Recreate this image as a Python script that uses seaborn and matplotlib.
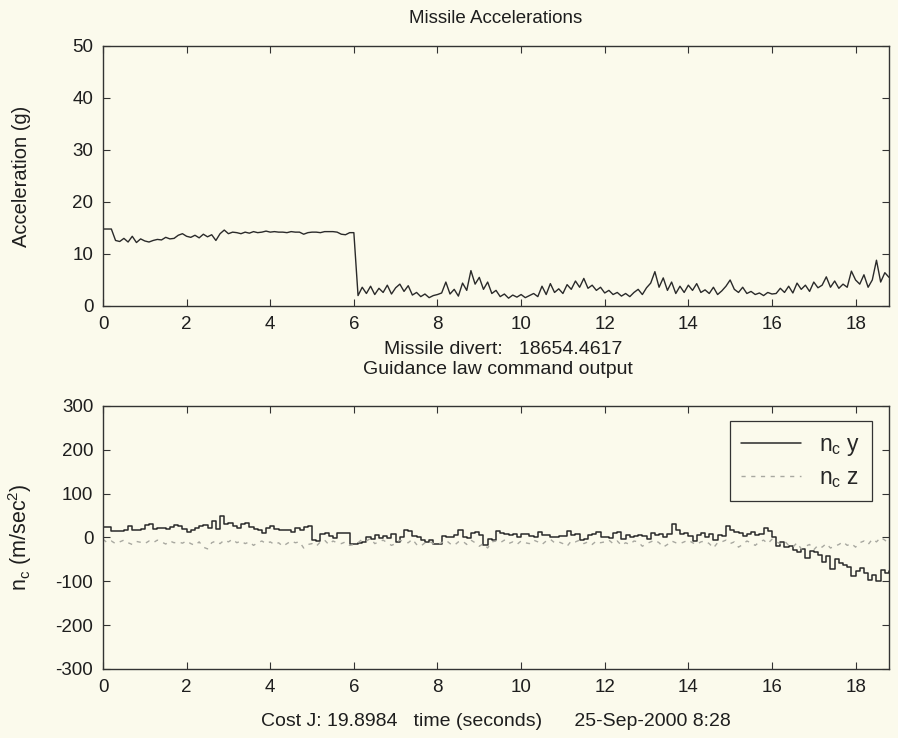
import numpy as np
import pandas as pd
import matplotlib
matplotlib.use("Agg")
import matplotlib.pyplot as plt
import seaborn as sns

# ---------------- data (sampled every 0.1 s) ----------------
accel_g = [
    14.8, 14.8, 14.8,
    12.6, 12.4, 13.0, 12.3, 13.4, 12.2, 12.9, 12.5,
    12.3, 12.6, 12.8, 12.7, 13.2, 12.9, 13.0, 13.6, 13.9, 13.4,
    13.2, 13.6, 13.1, 13.8, 13.3, 13.7, 12.6, 13.9, 14.6, 13.9,
    14.2, 14.1, 13.9, 14.2, 14.0, 14.3, 14.1, 14.2, 14.4, 14.2,
    14.3, 14.2, 14.2, 14.1, 14.3, 14.2, 14.2, 13.8, 14.1, 14.2,
    14.2, 14.1, 14.3, 14.3, 14.3, 14.2, 13.8, 13.7, 14.1, 14.1,
    2.0, 3.6, 2.4, 3.8, 2.2, 3.4, 2.6, 4.0, 2.3, 3.5,
    4.2, 2.8, 3.9, 2.1, 2.6, 1.8, 2.3, 1.6, 2.0, 2.2,
    2.5, 4.6, 2.3, 3.2, 1.9, 4.4, 3.0, 6.8, 4.2, 5.5,
    3.2, 4.6, 2.4, 3.0, 1.8, 2.3, 1.5, 2.1, 1.7, 2.2,
    1.6, 2.0, 2.4, 1.8, 3.8, 2.2, 4.3, 2.6, 3.3, 2.4,
    4.1, 3.2, 4.8, 3.6, 5.3, 3.4, 4.0, 3.0, 3.6, 2.5,
    3.0, 2.2, 2.6, 1.9, 2.4, 1.8, 2.6, 3.2, 2.2, 3.5,
    4.4, 6.6, 3.6, 5.4, 3.0, 4.6, 2.4, 3.8, 2.6, 4.0,
    3.0, 4.3, 2.6, 3.1, 2.4, 3.6, 2.2, 2.9, 3.8, 5.0,
    3.2, 2.6, 3.6, 2.4, 2.8, 2.2, 2.5, 2.0, 2.6, 2.3,
    2.4, 3.4, 2.6, 3.8, 2.5, 4.4, 3.2, 4.0, 2.8, 4.6,
    3.5, 4.0, 5.6, 3.6, 4.8, 3.4, 4.2, 3.6, 6.7, 5.0,
    4.2, 6.0, 3.6, 5.0, 8.8, 4.6, 6.4, 5.5,
]

nc_y = [
    25, 25, 14, 15, 15, 18, 27, 18, 17, 19,
    28, 30, 20, 22, 21, 20, 24, 28, 27, 20,
    12, 18, 22, 26, 28, 22, 38, 20, 48, 30,
    32, 26, 22, 30, 34, 24, 20, 18, 10, 22,
    26, 20, 18, 18, 16, 12, 22, 18, 24, 26,
    -6, -8, 8, 10, 4, -2, 10, 11, 11, -16,
    -14, -12, -10, 2, -4, 6, -2, 4, -2, 8,
    -10, 2, 18, 14, 4, 0, -6, -10, -6, -16,
    -14, 4, 0, 2, 6, 18, 2, -2, 10, 12,
    6, -18, -4, -6, 14, 10, 8, 6, 8, 2,
    8, 8, 4, 2, 12, 6, 6, 2, 0, 4,
    4, 14, 6, 8, -6, -4, 6, 8, 12, 2,
    2, -2, 10, 12, -4, 6, 2, 4, 6, 4,
    -4, 10, 6, 8, 2, 8, 30, 18, 8, 10,
    4, -8, 6, 10, 2, 8, -6, 6, 4, 26,
    16, 12, 10, 4, 8, 12, 6, 8, 22, 14,
    0, -20, -10, -22, -20, -28, -32, -26, -46, -30,
    -34, -40, -56, -42, -73, -50, -58, -62, -68, -88,
    -76, -70, -82, -96, -86, -99, -74, -80, -77,
]

nc_z = [
    -4, -12, -8, -14, -10, -6, -12, -16, -9, -11,
    -14, -8, -12, -6, -10, -15, -8, -12, -10, -13,
    -8, -14, -18, -10, -22, -26, -12, -8, -14, -6,
    -10, -4, -12, -8, -14, -10, -18, -12, -8, -14,
    -10, -16, -12, -20, -14, -8, -12, -10, -24, -16,
    -14, -20, -10, -6, -16, -8, -12, -14, -10, -18,
    -16, -12, -4, -8, -2, -14, -10, -6, -12, -18,
    -14, -6, -10, -12, -4, -16, -20, -12, -8, -14,
    -16, -12, -6, -14, -18, -10, -8, -16, -6, -12,
    -20, -14, -24, -10, -8, -12, -6, -14, -10, -16,
    -8, -12, -14, -6, -10, -16, -8, -4, -12, -10,
    -14, -20, -8, -10, -6, -14, -10, -16, -8, -12,
    -10, -6, -14, -8, -18, -12, -16, -8, -10, -20,
    -14, -10, -6, -12, -22, -16, -8, -12, -14, -10,
    -6, -12, -16, -10, -8, -14, -24, -12, -10, -6,
    -14, -10, -22, -16, -8, -12, -18, -10, -6, -14,
    -4, -10, -14, -8, -18, -22, -12, -26, -20, -16,
    -28, -18, -22, -14, -24, -20, -16, -10, -18, -14,
    -22, -12, -8, -16, -4, -10, 0, -6, -14,
]

top_title = "Missile Accelerations"
mid_text = "Missile divert:   18654.4617"
bottom_title = "Guidance law command output"
bottom_xlabel = "Cost J: 19.8984   time (seconds)      25-Sep-2000 8:28"
top_ylabel = "Acceleration (g)"
bottom_ylabel = r"n$_{\mathrm{c}}$ (m/sec$^2$)"
legend_labels = [r"n$_{\mathrm{c}}$ y", r"n$_{\mathrm{c}}$ z"]
x_ticks = [0, 2, 4, 6, 8, 10, 12, 14, 16, 18]
top_yticks = [0, 10, 20, 30, 40, 50]
bottom_yticks = [-300, -200, -100, 0, 100, 200, 300]

t_acc = np.round(np.arange(len(accel_g)) * 0.1, 2)
t_nc = np.round(np.arange(len(nc_y)) * 0.1, 2)
df_acc = pd.DataFrame({"t": t_acc, "a": accel_g})
df_nc = pd.DataFrame({"t": t_nc, "y": nc_y, "z": nc_z[:len(nc_y)]})

# ---------------- style ----------------
BG = "#fbfaec"
sns.set_theme(style="ticks")
plt.rcParams["font.family"] = ["Liberation Sans", "DejaVu Sans"]
plt.rcParams["mathtext.fontset"] = "custom"
plt.rcParams["mathtext.rm"] = "Liberation Sans"
plt.rcParams["mathtext.it"] = "Liberation Sans"
plt.rcParams["axes.unicode_minus"] = False
FS = 13.5
TXT = "#1e1e1e"

fig = plt.figure(figsize=(8.98, 7.38), dpi=100, facecolor=BG)
ax1 = fig.add_axes([0.1147, 0.5854, 0.8753, 0.3523])
ax2 = fig.add_axes([0.1147, 0.0935, 0.8753, 0.3564])

for ax in (ax1, ax2):
    ax.set_facecolor(BG)
    for s in ax.spines.values():
        s.set_color("#333333")
        s.set_linewidth(1.0)
    ax.tick_params(direction="in", top=True, right=True, length=5, width=0.8,
                   colors="#333333", labelcolor=TXT, labelsize=FS, pad=7)
    ax.set_xlim(0, 18.8)
    ax.set_xticks(x_ticks)

sns.lineplot(data=df_acc, x="t", y="a", ax=ax1, color="#2a2a2a", lw=1.0,
             estimator=None, sort=False)
ax1.set_ylim(0, 50)
ax1.set_yticks(top_yticks)
ax1.set_xlabel("")
ax1.set_ylabel(top_ylabel, fontsize=FS + 1, color=TXT)
ax1.yaxis.set_label_coords(-0.092, 0.5)

sns.lineplot(data=df_nc, x="t", y="y", ax=ax2, color="#2a2a2a", lw=1.1,
             estimator=None, sort=False, drawstyle="steps-post",
             label=legend_labels[0])
sns.lineplot(data=df_nc, x="t", y="z", ax=ax2, color="#a8a8a0", lw=1.0,
             estimator=None, sort=False, linestyle=(0, (3, 4)),
             label=legend_labels[1])
ax2.set_ylim(-300, 300)
ax2.set_yticks(bottom_yticks)
ax2.set_xlabel("")
ax2.set_ylabel(bottom_ylabel, fontsize=FS + 2, color=TXT)
ax2.yaxis.set_label_coords(-0.088, 0.5)

leg = ax2.legend(loc="upper right", fontsize=FS + 3, frameon=True, fancybox=False,
                 edgecolor="#333333", facecolor=BG, framealpha=1.0,
                 handlelength=2.6, borderpad=0.5, labelspacing=0.35,
                 bbox_to_anchor=(0.993, 0.985))
leg.get_frame().set_linewidth(0.9)

fig.text(0.552, 0.975, top_title, ha="center", va="center", fontsize=FS, color=TXT)
fig.text(0.560, 0.526, mid_text, ha="center", va="center", fontsize=FS + 0.5, color=TXT)
fig.text(0.554, 0.500, bottom_title, ha="center", va="center", fontsize=FS + 0.5, color=TXT)
fig.text(0.552, 0.022, bottom_xlabel, ha="center", va="center", fontsize=FS + 0.5, color=TXT)

fig.savefig("out.png", dpi=100, facecolor=BG)
